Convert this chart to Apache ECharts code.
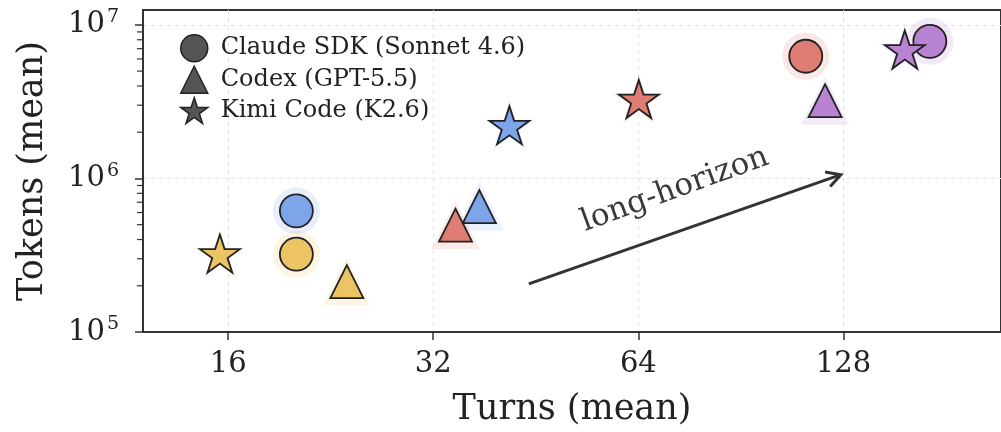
<!DOCTYPE html>
<html><head><meta charset="utf-8">
<script src="https://cdn.jsdelivr.net/npm/echarts@6/dist/echarts.min.js"></script>
<style>html,body{margin:0;padding:0;background:#fff}#c{width:1001px;height:432px}</style>
</head><body><div id="c"></div>
<script>
// ---- data ----
const palette = ['#ecc464', '#7ea4ea', '#dd7d73', '#b884d2']; // one colour per task group
const agents = ['Claude SDK (Sonnet 4.6)', 'Codex (GPT-5.5)', 'Kimi Code (K2.6)'];
const claudeTurns  = [20.15, 20.15, 112.7, 171.4];
const claudeTokens = [3.21e5, 6.15e5, 6.25e6, 7.81e6];
const codexTurns   = [23.9, 37.4, 34.5, 120.3];
const codexTokens  = [2.13e5, 6.56e5, 4.96e5, 3.21e6];
const kimiTurns    = [15.56, 41.4, 64.1, 157.5];
const kimiTokens   = [3.24e5, 2.22e6, 3.29e6, 6.91e6];
const xTicks = [16, 32, 64, 128];
const yTicks = [1e5, 1e6, 1e7];
const yMinorTicks = [2e5, 3e5, 4e5, 5e5, 6e5, 7e5, 8e5, 9e5, 2e6, 3e6, 4e6, 5e6, 6e6, 7e6, 8e6, 9e6];
const arrowFrom = [44.2, 2.06e5];
const arrowTo = [126.9, 1.058e6];
const annotationText = 'long-horizon';
const annotationAt = [72.4, 8.43e5];
const X_MIN = 12, X_MAX = 218, Y_MIN = 1e5, Y_MAX = 1.25e7;

// ---- shapes ----
function starPath() {
  let d = '';
  for (let i = 0; i < 10; i++) {
    const r = i % 2 === 0 ? 1 : 0.382;
    const a = (-90 + i * 36) * Math.PI / 180;
    const x = (r * Math.cos(a)).toFixed(4), y = (r * Math.sin(a)).toFixed(4);
    d += (i === 0 ? 'M' : 'L') + x + ' ' + y + ' ';
  }
  return 'path://' + d + 'Z';
}
const STAR = starPath();
const FONT = 'DejaVu Serif';

function hexA(hex, a) {
  const n = parseInt(hex.slice(1), 16);
  return 'rgba(' + (n >> 16) + ',' + ((n >> 8) & 255) + ',' + (n & 255) + ',' + a + ')';
}
function pts(xs, ys) { return xs.map((x, i) => ({ value: [x, ys[i]], itemStyle: { color: palette[i] } })); }
function halo(xs, ys, a) { return xs.map((x, i) => ({ value: [x, ys[i]], itemStyle: { color: hexA(palette[i], a) } })); }

const groups = [
  { name: agents[0], xs: claudeTurns, ys: claudeTokens, symbol: 'circle', size: 33, hsize: 47, ha: 0.22 },
  { name: agents[1], xs: codexTurns, ys: codexTokens, symbol: 'triangle', size: 33, hsize: 48, ha: 0.2 },
  { name: agents[2], xs: kimiTurns, ys: kimiTokens, symbol: STAR, size: [40, 38], hsize: [54, 51], ha: 0.12 }
];

const series = [];
groups.forEach((g, k) => {
  series.push({
    type: 'scatter', silent: true, symbol: g.symbol, symbolSize: g.hsize, z: 2 + k * 2,
    data: halo(g.xs, g.ys, g.ha), itemStyle: { borderWidth: 0 }
  });
  series.push({
    type: 'scatter', name: g.name, symbol: g.symbol, symbolSize: g.size, z: 3 + k * 2,
    data: pts(g.xs, g.ys),
    itemStyle: { borderColor: '#222', borderWidth: 1.8, opacity: 1 }
  });
});

// minor ticks of the log y axis (2..9 x 10^k), drawn through the axis scale
series.push({
  type: 'custom', z: 20, silent: true, clip: false,
  data: yMinorTicks.map(v => [X_MIN, v]),
  renderItem(params, api) {
    const p = api.coord([api.value(0), api.value(1)]);
    return { type: 'line', shape: { x1: p[0] - 1, y1: p[1], x2: p[0] - 6, y2: p[1] }, style: { stroke: '#333', lineWidth: 1.2 } };
  }
});

series.push({
  type: 'custom', z: 20, silent: true, clip: false,
  encode: { x: [0, 2], y: [1, 3] },
  data: [[arrowFrom[0], arrowFrom[1], arrowTo[0], arrowTo[1]]],
  renderItem(params, api) {
    const p1 = api.coord([api.value(0), api.value(1)]);
    const p2 = api.coord([api.value(2), api.value(3)]);
    const ang = Math.atan2(p2[1] - p1[1], p2[0] - p1[0]);
    const L = 16, a = 0.5;
    const h1 = [p2[0] - L * Math.cos(ang - a), p2[1] - L * Math.sin(ang - a)];
    const h2 = [p2[0] - L * Math.cos(ang + a), p2[1] - L * Math.sin(ang + a)];
    return { type: 'group', children: [
      { type: 'line', shape: { x1: p1[0], y1: p1[1], x2: p2[0] - 1.5 * Math.cos(ang), y2: p2[1] - 1.5 * Math.sin(ang) }, style: { stroke: '#333', lineWidth: 3 } },
      { type: 'polyline', shape: { points: [h1, p2, h2] }, style: { stroke: '#333', lineWidth: 3, fill: null } }
    ] };
  }
});
series.push({
  type: 'custom', z: 20, silent: true, clip: false,
  data: [annotationAt],
  renderItem(params, api) {
    const p = api.coord([api.value(0), api.value(1)]);
    return { type: 'text', x: p[0], y: p[1], rotation: 20 * Math.PI / 180,
      style: { text: annotationText, font: '31px "DejaVu Serif"', fill: '#3a3a3a', align: 'center', verticalAlign: 'middle' } };
  }
});

const chart = echarts.init(document.getElementById('c'), null, { renderer: 'canvas' });
chart.setOption({
  animation: false,
  backgroundColor: '#fff',
  grid: { left: 143, top: 10, right: -2, bottom: 96, show: true, borderColor: '#333', borderWidth: 2 },
  legend: {
    left: 175, top: 29, orient: 'vertical', itemWidth: 27, itemHeight: 27, itemGap: 3,
    textStyle: { fontFamily: FONT, fontSize: 24, color: '#222', padding: [0, 0, 0, 8] },
    data: groups.map(g => ({ name: g.name, icon: g.symbol, itemStyle: { color: '#555', borderColor: '#222', borderWidth: 1.5 } })),
    selectedMode: false
  },
  xAxis: {
    type: 'log', logBase: 2, min: X_MIN, max: X_MAX,
    name: 'Turns (mean)', nameLocation: 'middle', nameGap: 60,
    nameTextStyle: { fontFamily: FONT, fontSize: 35, color: '#222' },
    axisLine: { lineStyle: { color: '#333', width: 2 } },
    axisTick: { customValues: xTicks, length: 8, lineStyle: { color: '#333', width: 1.5 } },
    axisLabel: { customValues: xTicks, fontFamily: FONT, fontSize: 29, color: '#222', margin: 18, formatter: v => String(Math.round(v)) },
    splitLine: { show: true, lineStyle: { type: [4, 4], color: '#e4e4e4', width: 1 } },
    minorTick: { show: false }
  },
  yAxis: {
    type: 'log', logBase: 10, min: Y_MIN, max: Y_MAX,
    name: 'Tokens (mean)', nameLocation: 'middle', nameGap: 93,
    nameTextStyle: { fontFamily: FONT, fontSize: 35, color: '#222' },
    axisLine: { lineStyle: { color: '#333', width: 2 } },
    axisTick: { customValues: yTicks, length: 8, lineStyle: { color: '#333', width: 1.5 } },
    axisLabel: {
      customValues: yTicks, margin: 24, color: '#222',
      formatter: v => '{b|10}{s|' + Math.round(Math.log10(v)) + '}',
      rich: {
        b: { fontFamily: FONT, fontSize: 29, color: '#222', lineHeight: 34 },
        s: { fontFamily: FONT, fontSize: 19, color: '#222', verticalAlign: 'top', lineHeight: 22, padding: [0, 0, 0, 2] }
      }
    },
    splitLine: { show: true, lineStyle: { type: [4, 4], color: '#e4e4e4', width: 1 } }
  },
  series: series
});
</script>
</body></html>
